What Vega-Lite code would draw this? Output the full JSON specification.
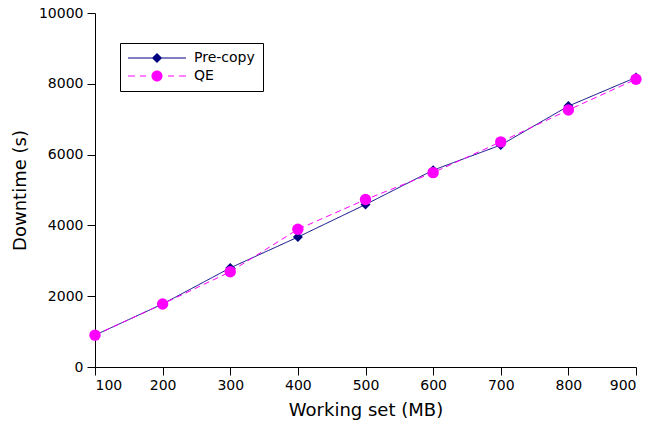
{
  "$schema": "https://vega.github.io/schema/vega-lite/v6.json",
  "autosize": "none",
  "width": 541,
  "height": 354,
  "padding": {"left": 95, "top": 13, "right": 26, "bottom": 61},
  "background": "white",
  "config": {
    "view": {"stroke": null},
    "font": "DejaVu Sans",
    "axis": {
      "domainColor": "#000000",
      "tickColor": "#000000",
      "labelColor": "#000000",
      "titleColor": "#000000",
      "labelFont": "DejaVu Sans",
      "titleFont": "DejaVu Sans",
      "labelFontSize": 14,
      "titleFontSize": 18,
      "titleFontWeight": "normal",
      "tickSize": 8,
      "grid": false,
      "labelPadding": 3,
      "format": "d"
    },
    "legend": {
      "labelFont": "DejaVu Sans",
      "labelFontSize": 14,
      "labelColor": "#000000"
    }
  },
  "data": {
    "values": [
      {"ws": 100, "downtime": 900, "series": "Pre-copy"},
      {"ws": 200, "downtime": 1780, "series": "Pre-copy"},
      {"ws": 300, "downtime": 2800, "series": "Pre-copy"},
      {"ws": 400, "downtime": 3670, "series": "Pre-copy"},
      {"ws": 500, "downtime": 4590, "series": "Pre-copy"},
      {"ws": 600, "downtime": 5560, "series": "Pre-copy"},
      {"ws": 700, "downtime": 6270, "series": "Pre-copy"},
      {"ws": 800, "downtime": 7370, "series": "Pre-copy"},
      {"ws": 900, "downtime": 8180, "series": "Pre-copy"},
      {"ws": 100, "downtime": 900, "series": "QE"},
      {"ws": 200, "downtime": 1780, "series": "QE"},
      {"ws": 300, "downtime": 2690, "series": "QE"},
      {"ws": 400, "downtime": 3890, "series": "QE"},
      {"ws": 500, "downtime": 4730, "series": "QE"},
      {"ws": 600, "downtime": 5490, "series": "QE"},
      {"ws": 700, "downtime": 6360, "series": "QE"},
      {"ws": 800, "downtime": 7260, "series": "QE"},
      {"ws": 900, "downtime": 8130, "series": "QE"}
    ]
  },
  "encoding": {
    "x": {
      "field": "ws",
      "type": "quantitative",
      "scale": {"domain": [100, 900], "nice": false, "zero": false},
      "axis": {"values": [100, 200, 300, 400, 500, 600, 700, 800, 900], "title": "Working set (MB)", "titlePadding": 9}
    },
    "y": {
      "field": "downtime",
      "type": "quantitative",
      "scale": {"domain": [0, 10000], "nice": false},
      "axis": {"values": [0, 2000, 4000, 6000, 8000, 10000], "title": "Downtime (s)", "titlePadding": 9, "labelPadding": 4}
    }
  },
  "layer": [
    {
      "mark": {"type": "line", "strokeWidth": 1},
      "encoding": {
        "color": {
          "field": "series",
          "type": "nominal",
          "scale": {"domain": ["Pre-copy", "QE"], "range": ["#000080", "#ff00ff"]},
          "legend": {
            "title": null,
            "orient": "none",
            "legendX": 25,
            "legendY": 30,
            "padding": 8,
            "strokeColor": "#000000",
            "fillColor": "#ffffff",
            "symbolSize": 144,
            "symbolOffset": 22,
            "labelOffset": 30,
            "rowPadding": 4,
            "encode": {
              "symbols": {
                "update": {
                  "shape": {"signal": "datum.value === 'QE' ? 'M-4.83,-0.083H-3.67V0.083H-4.83Z M-2.83,-0.083H-1.83V0.083H-2.83Z M1.83,-0.083H2.83V0.083H1.83Z M3.67,-0.083H4.83V0.083H3.67Z M-0.92,0A0.92,0.92 0 1,1 0.92,0A0.92,0.92 0 1,1 -0.92,0Z' : 'M-4.83,-0.083H4.83V0.083H-4.83Z M0,-0.85L0.85,0L0,0.85L-0.85,0Z'"},
                  "fill": {"signal": "datum.value === 'QE' ? '#ff00ff' : '#000080'"},
                  "strokeWidth": {"value": 0},
                  "opacity": {"value": 1},
                  "fillOpacity": {"value": 1}
                }
              }
            }
          }
        },
        "strokeDash": {
          "field": "series",
          "type": "nominal",
          "scale": {"domain": ["Pre-copy", "QE"], "range": [[1, 0], [6, 4]]},
          "legend": null
        }
      }
    },
    {
      "transform": [{"filter": "datum.series === 'Pre-copy'"}],
      "mark": {"type": "point", "filled": true, "opacity": 1, "shape": "diamond", "size": 100},
      "encoding": {
        "color": {"field": "series", "type": "nominal", "legend": null}
      }
    },
    {
      "transform": [{"filter": "datum.series === 'QE'"}],
      "mark": {"type": "point", "filled": true, "opacity": 1, "shape": "circle", "size": 130},
      "encoding": {
        "color": {"field": "series", "type": "nominal", "legend": null}
      }
    }
  ]
}
